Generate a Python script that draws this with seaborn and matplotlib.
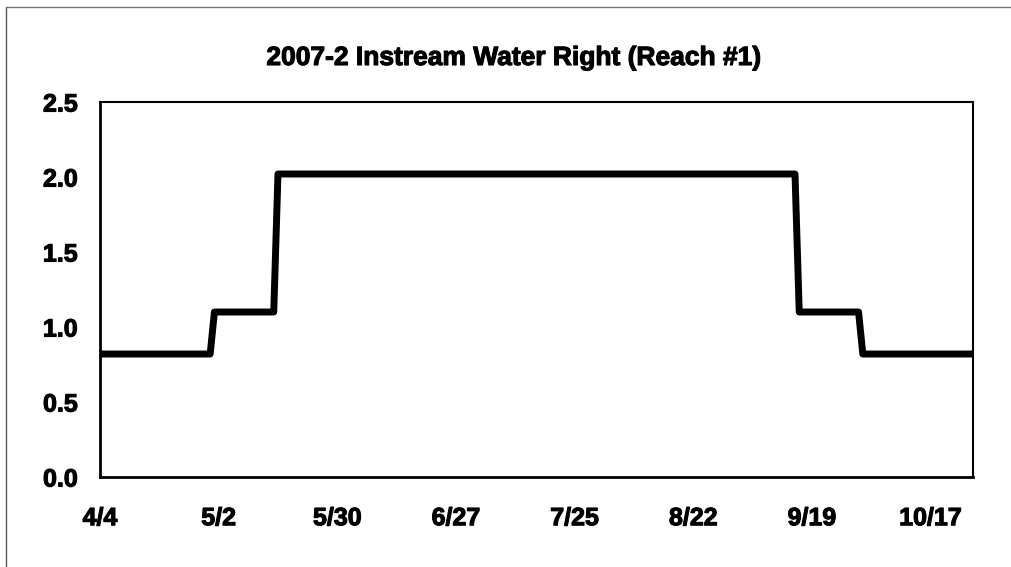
import pandas as pd
import seaborn as sns
import matplotlib.pyplot as plt
from matplotlib.lines import Line2D
import matplotlib.patheffects as pe

# step schedule of the instream water right (cfs)
dates = ["2007-04-04", "2007-04-30", "2007-05-01", "2007-05-15", "2007-05-16",
         "2007-09-15", "2007-09-16", "2007-09-30", "2007-10-01", "2007-10-27"]
flows = [0.82, 0.82, 1.10, 1.10, 2.02, 2.02, 1.10, 1.10, 0.82, 0.82]

tick_dates = ["2007-04-04", "2007-05-02", "2007-05-30", "2007-06-27",
              "2007-07-25", "2007-08-22", "2007-09-19", "2007-10-17"]
tick_labels = ["4/4", "5/2", "5/30", "6/27", "7/25", "8/22", "9/19", "10/17"]
y_ticks = [0.0, 0.5, 1.0, 1.5, 2.0, 2.5]

sns.set_style("white")
plt.rcParams['font.family'] = ['Liberation Sans', 'DejaVu Sans']
plt.rcParams['font.weight'] = 'bold'
plt.rcParams['text.color'] = 'black'
plt.rcParams['xtick.color'] = 'black'
plt.rcParams['ytick.color'] = 'black'

df = pd.DataFrame({"date": pd.to_datetime(dates), "flow": flows})

fig = plt.figure(figsize=(10.11, 5.67), dpi=100)
ax = fig.add_axes([0.0989, 0.1587, 0.8635, 0.6614])
sns.lineplot(data=df, x="date", y="flow", color="black", linewidth=5, ax=ax)

ax.set_xlim(pd.Timestamp("2007-04-04"), pd.Timestamp("2007-10-27"))
ax.set_ylim(0, 2.5)
ax.set_xticks(pd.to_datetime(tick_dates))
ax.set_xticklabels(tick_labels)
ax.set_yticks(y_ticks)
ax.set_yticklabels([f"{v:.1f}" for v in y_ticks])
ax.set_xlabel("")
ax.set_ylabel("")
ax.tick_params(axis="both", labelsize=18, length=6, width=1, colors="black")
ax.tick_params(axis="x", pad=15)
ax.tick_params(axis="y", pad=10)
heavy = [pe.withStroke(linewidth=0.8, foreground="black")]
for lbl in ax.get_xticklabels() + ax.get_yticklabels():
    lbl.set_fontweight("bold")
    lbl.set_path_effects(heavy)

for side in ["left", "bottom"]:
    ax.spines[side].set_linewidth(2)
    ax.spines[side].set_color("black")
for side in ["top", "right"]:
    ax.spines[side].set_linewidth(1.5)
    ax.spines[side].set_color("black")

fig.text(0.508, 1 - 58 / 567, "2007-2 Instream Water Right (Reach #1)",
         ha="center", va="center", fontsize=19, fontweight="bold",
         path_effects=heavy)

# chart frame (only top and left edges are visible in the scan)
fig.add_artist(Line2D([6 / 1011, 6 / 1011], [0, 1 - 7 / 567], color="#555555", linewidth=1))
fig.add_artist(Line2D([6 / 1011, 1], [1 - 7 / 567, 1 - 7 / 567], color="#777777", linewidth=1))

fig.savefig("out.png", dpi=100)
